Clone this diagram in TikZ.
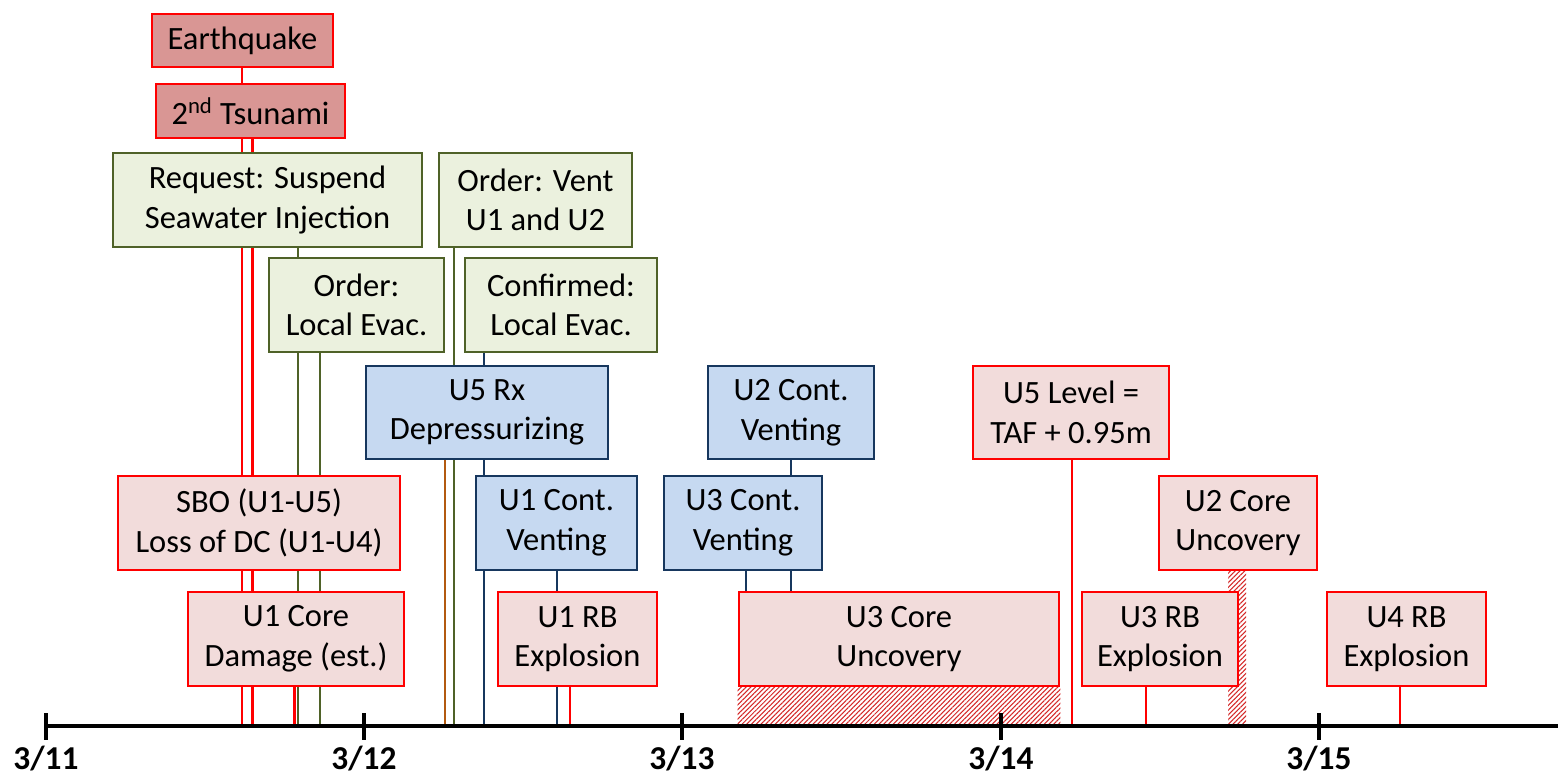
\documentclass[tikz,border=0pt]{standalone}
\usepackage{fontspec}
\setmainfont{Carlito}
\usetikzlibrary{patterns.meta}

\definecolor{quakefill}{HTML}{D99694}
\definecolor{eventfill}{HTML}{F2DCDB}
\definecolor{orderfill}{HTML}{EBF1DE}
\definecolor{orderline}{HTML}{4F6228}
\definecolor{ventfill}{HTML}{C6D9F1}
\definecolor{ventline}{HTML}{17375E}
\definecolor{evred}{HTML}{FF0000}
\definecolor{hatchred}{HTML}{D42828}
\definecolor{rxline}{HTML}{B35A10}

\begin{document}
\begin{tikzpicture}[x=0.02cm, y=-0.02cm,
  wh/.style 2 args={minimum width=#1*0.02cm, minimum height=#2*0.02cm},
  box/.style={draw, line width=1.45pt, align=center, inner sep=0pt,
              font=\fontsize{18.5}{22.5}\selectfont},
  quake/.style={box, draw=evred, fill=quakefill},
  plant/.style={box, draw=evred, fill=eventfill},
  order/.style={box, draw=orderline, fill=orderfill},
  vent/.style={box, draw=ventline, fill=ventfill},
  redev/.style={draw=evred, line width=1.4pt},
  greenev/.style={draw=orderline, line width=1.4pt},
  navyev/.style={draw=ventline, line width=1.4pt},
  rxev/.style={draw=rxline, line width=1.4pt},
  hatch/.style={pattern={Lines[angle=45, distance=1.9pt, line width=0.6pt]},
                pattern color=hatchred},
  axis/.style={line width=2.4pt, draw=black},
  axlabel/.style={anchor=base, font=\fontsize{19}{22}\selectfont\bfseries}
]
\useasboundingbox (0,0) rectangle (1558,777);

% time axis reference points
\coordinate (axL) at (46,726);
\coordinate (axR) at (1558,726);
\coordinate (d11) at (46,726);
\coordinate (d12) at (364,726);
\coordinate (d13) at (682,726);
\coordinate (d14) at (1001,726);
\coordinate (d15) at (1319,726);

% event times on the axis
\coordinate (tEq)   at (242,726);
\coordinate (tTsu)  at (252.5,726);
\coordinate (tCd1)  at (294.5,726);
\coordinate (tReq)  at (298,726);
\coordinate (tOev)  at (320,726);
\coordinate (tRx)   at (445,726);
\coordinate (tVent) at (454,726);
\coordinate (tCev)  at (484,726);
\coordinate (tCv1)  at (557,726);
\coordinate (tRb1)  at (570,726);
\coordinate (tCv3)  at (746,726);
\coordinate (tCv2)  at (791,726);
\coordinate (tLv5)  at (1072,726);
\coordinate (tRb3)  at (1146,726);
\coordinate (tRb4)  at (1400,726);
\coordinate (tCu2a) at (1228,726);
\coordinate (tCu2b) at (1246,726);

% event boxes (placed first as phantoms so lines can refer to them)
\begin{scope}[every node/.append style={draw=none, fill=none, text opacity=0}]
\node[box, wh={181}{53}] (eq)   at (242.5,40.5) {Earthquake};
\node[box, wh={189}{54}] (tsu)  at (250.5,111) {2\textsuperscript{nd} Tsunami};
\node[box, wh={309}{94}] (req)  at (267.5,200) {Request: Suspend\\Seawater Injection};
\node[box, wh={193}{94}] (vnt)  at (535.5,200) {Order: Vent\\U1 and U2};
\node[box, wh={175}{94}] (oev)  at (356.5,305) {Order:\\Local Evac.};
\node[box, wh={192}{94}] (cev)  at (561,305) {Confirmed:\\Local Evac.};
\node[box, wh={242}{93}] (rx5)  at (487,412.5) {U5 Rx\\Depressurizing};
\node[box, wh={166}{93}] (cv2)  at (791,412.5) {U2 Cont.\\Venting};
\node[box, wh={196}{93}] (lv5)  at (1071,412.5) {U5 Level =\\TAF + 0.95m};
\node[box, wh={282}{94}] (sbo)  at (259,523) {SBO (U1-U5)\\Loss of DC (U1-U4)};
\node[box, wh={161}{94}] (cv1)  at (556.5,523) {U1 Cont.\\Venting};
\node[box, wh={158}{94}] (cv3)  at (743,523) {U3 Cont.\\Venting};
\node[box, wh={158}{94}] (cu2)  at (1238,523) {U2 Core\\Uncovery};
\node[box, wh={216}{94}] (cd1)  at (296,639) {U1 Core\\Damage (est.)};
\node[box, wh={159}{94}] (rb1)  at (577.5,639) {U1 RB\\Explosion};
\node[box, wh={320}{94}] (cu3)  at (899,639) {U3 Core\\Uncovery};
\node[box, wh={156}{94}] (rb3)  at (1160,639) {U3 RB\\Explosion};
\node[box, wh={159}{94}] (rb4)  at (1406.5,639) {U4 RB\\Explosion};
\end{scope}

% drop lines from each event to its time on the axis
\draw[redev, line width=1pt] (eq.south -| tEq) -- (tEq);
\draw[redev, line width=2pt] (tsu.south -| tTsu) -- (tTsu);
\draw[greenev] (req.south -| tReq) -- (tReq);
\draw[greenev] (oev.south -| tOev) -- (tOev);
\draw[redev, line width=1.7pt] (cd1.south -| tCd1) -- (tCd1);
\draw[rxev] (rx5.south -| tRx) -- (tRx);
\draw[greenev] (vnt.south -| tVent) -- (tVent);
\draw[navyev] (cev.south -| tCev) -- (tCev);
\draw[navyev] (cv1.south -| tCv1) -- (tCv1);
\draw[redev] (rb1.south -| tRb1) -- (tRb1);
\draw[navyev] (cv3.south -| tCv3) -- (tCv3);
\draw[navyev] (cv2.south -| tCv2) -- (tCv2);
\draw[redev] (lv5.south -| tLv5) -- (tLv5);
\draw[redev] (rb3.south -| tRb3) -- (tRb3);
\draw[redev] (rb4.south -| tRb4) -- (tRb4);

% uncertain durations (hatched over white)
\fill[white] (cu3.south west) rectangle (cu3.south east |- axL);
\fill[hatch] (cu3.south west) rectangle (cu3.south east |- axL);
\fill[white] (cu2.south -| tCu2a) rectangle (tCu2b);
\fill[hatch] (cu2.south -| tCu2a) rectangle (tCu2b);

% visible event boxes
\node[quake, wh={181}{53}] at (eq)  {Earthquake};
\node[quake, wh={189}{54}] at (tsu) {2\textsuperscript{nd} Tsunami};
\node[order, wh={309}{94}] at (req) {Request: Suspend\\Seawater Injection};
\node[order, wh={193}{94}] at (vnt) {Order: Vent\\U1 and U2};
\node[order, wh={175}{94}] at (oev) {Order:\\Local Evac.};
\node[order, wh={192}{94}] at (cev) {Confirmed:\\Local Evac.};
\node[vent,  wh={242}{93}] at (rx5) {U5 Rx\\Depressurizing};
\node[vent,  wh={166}{93}] at (cv2) {U2 Cont.\\Venting};
\node[plant, wh={196}{93}] at (lv5) {U5 Level =\\TAF + 0.95m};
\node[plant, wh={282}{94}] at (sbo) {SBO (U1-U5)\\Loss of DC (U1-U4)};
\node[vent,  wh={161}{94}] at (cv1) {U1 Cont.\\Venting};
\node[vent,  wh={158}{94}] at (cv3) {U3 Cont.\\Venting};
\node[plant, wh={158}{94}] at (cu2) {U2 Core\\Uncovery};
\node[plant, wh={216}{94}] at (cd1) {U1 Core\\Damage (est.)};
\node[plant, wh={159}{94}] at (rb1) {U1 RB\\Explosion};
\node[plant, wh={320}{94}] at (cu3) {U3 Core\\Uncovery};
\node[plant, wh={156}{94}] at (rb3) {U3 RB\\Explosion};
\node[plant, wh={159}{94}] at (rb4) {U4 RB\\Explosion};

% time axis with day ticks
\draw[axis] (axL) -- (axR);
\foreach \d in {d11,d12,d13,d14,d15}
  \draw[axis] (\d) ++(0,-13) -- ++(0,27);
\node[axlabel] (l11) at (46,769)   {3/11};
\node[axlabel] (l12) at (364,769)  {3/12};
\node[axlabel] (l13) at (682,769)  {3/13};
\node[axlabel] (l14) at (1001,769) {3/14};
\node[axlabel] (l15) at (1319,769) {3/15};
\end{tikzpicture}
\end{document}
